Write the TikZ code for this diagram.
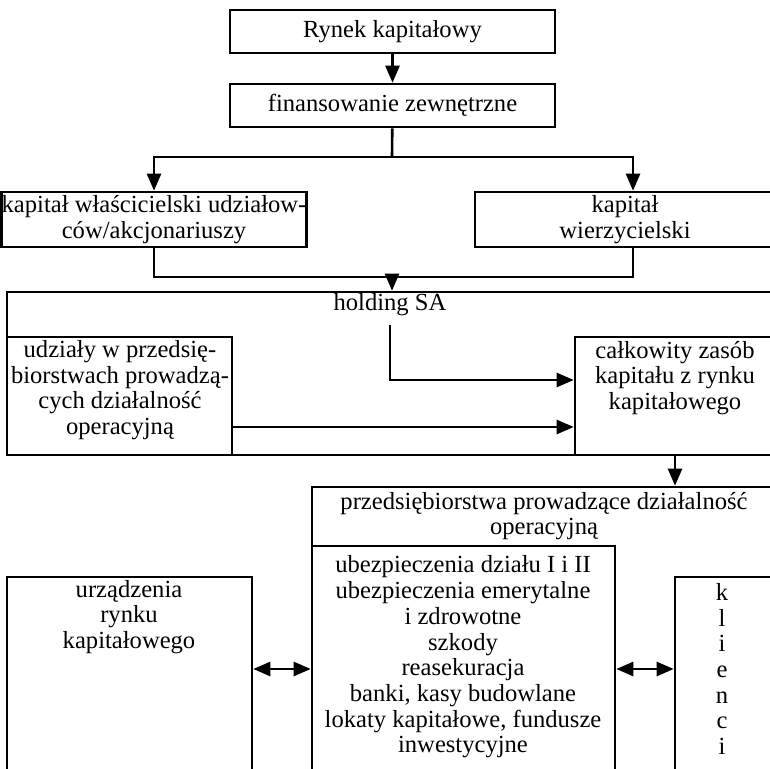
\documentclass[tikz,border=0pt]{standalone}
\usepackage{fontspec}
\setmainfont{Liberation Serif}
\usetikzlibrary{arrows.meta}

\begin{document}
\begin{tikzpicture}[x=0.5pt, y=-0.5pt,
    >={Triangle[length=8.5pt, width=7pt]},
    box/.style={draw, line width=1.3pt, inner sep=0pt, align=center,
      font=\fontsize{12.3}{12.85}\selectfont},
    txt/.style={inner sep=0pt, align=center, font=\fontsize{12.3}{12.85}\selectfont},
    arr/.style={->, line width=1.3pt},
    darr/.style={<->, line width=1.3pt}]

  \path[use as bounding box] (0,0) rectangle (770,769);
  \clip (0,0) rectangle (770,769);

  % rynek kapitalowy (gora)
  \node[box, minimum width=162.5pt, minimum height=21.5pt] (rynek) at (392.5,31.5)  {Rynek kapitałowy};
  \node[box, minimum width=162.5pt, minimum height=21.5pt] (fin)   at (392.5,105.5) {finansowanie zewnętrzne};
  \draw[arr] (rynek) -- (fin);

  % kapital wlasny i obcy
  \node[box, minimum width=151pt, minimum height=27.5pt] (wlasc) at (154,219.5) {kapitał właścicielski udziałow-\\ców/akcjonariuszy};
  \node[box, minimum width=150pt, minimum height=27.5pt] (wierz) at (625,219.5) {kapitał\\wierzycielski};

  \coordinate (split) at (392,157);
  \draw[line width=1.3pt] (fin) -- (split);
  \draw[arr] (split) -| (wlasc.north);
  \draw[arr] (split) -| ([xshift=4pt]wierz.north);

  % holding SA
  \node[box, minimum width=385pt, minimum height=81.5pt] (hold) at (392,373.5) {};
  \node[txt] (holdtxt) at (390,305) {holding SA};

  \coordinate (merge) at (392,277);
  \draw[line width=1.3pt] (wlasc.south) |- (merge) -| ([xshift=4pt]wierz.south);
  \draw[arr] (merge) -- (hold);

  \node[box, minimum width=112.5pt, minimum height=59pt] (udz) at (119.5,396) {};
  \node[txt] (udztxt) at (120,390) {udziały w przedsię-\\biorstwach prowadzą-\\cych działalność\\operacyjną};
  \node[box, minimum width=100pt, minimum height=59pt] (calk) at (675,396) {};
  \node[txt] (calktxt) at (675,378) {całkowity zasób\\kapitału z rynku\\kapitałowego};

  \draw[arr] ([yshift=-4pt]holdtxt.south) |- ([yshift=8pt]calk.west);
  \draw[arr] ([yshift=-15.5pt]udz.east) -- ([yshift=-15.5pt]calk.west);

  % przedsiebiorstwa operacyjne (dol)
  \node[box, minimum width=232pt, minimum height=156.5pt] (prz) at (544,643.5) {};
  \node[txt] (prztxt) at (544,516) {przedsiębiorstwa prowadzące działalność\\operacyjną};
  \draw[arr] (calk.south) -- (calk.south |- prz.north);

  \node[box, minimum width=151.5pt, minimum height=127pt] (dzial) at (463.5,673) {};
  \node[txt] (dzialtxt) at (463,657) {ubezpieczenia działu I i II\\ubezpieczenia emerytalne\\i zdrowotne\\szkody\\reasekuracja\\banki, kasy budowlane\\lokaty kapitałowe, fundusze\\inwestycyjne};

  \node[box, minimum width=122.5pt, minimum height=111.5pt] (urz) at (129.5,688.5) {};
  \node[txt] (urztxt) at (129,617) {urządzenia\\rynku\\kapitałowego};

  \node[box, minimum width=52.5pt, minimum height=111.5pt] (kl) at (727.5,688.5) {};
  \node[txt] (kltxt) at (722,669) {k\\l\\i\\e\\n\\c\\i};

  % wymiana w obie strony
  \coordinate (mid) at (0,669);
  \draw[darr] (urz.east |- mid) -- (dzial.west |- mid);
  \draw[darr] (dzial.east |- mid) -- (kl.west |- mid);

\end{tikzpicture}
\end{document}
